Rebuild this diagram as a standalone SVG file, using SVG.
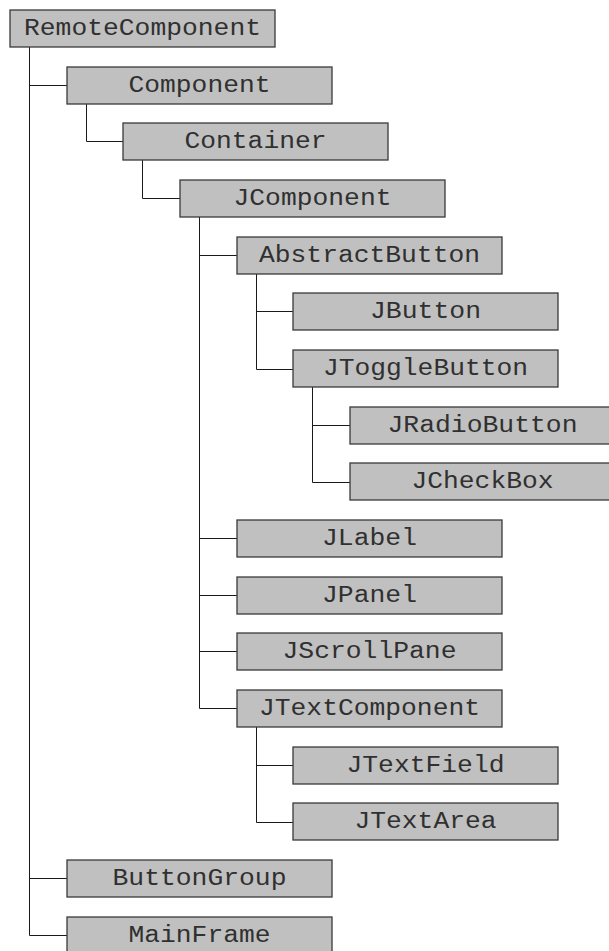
<svg xmlns="http://www.w3.org/2000/svg" width="609" height="951" viewBox="0 0 609 951">
  <style>
    .box { fill: #c0c0c0; stroke: #3a3a3a; stroke-width: 1.3; }
    .lbl { font-family: "Liberation Mono", "Courier New", monospace; font-size: 23px; fill: #303030; text-anchor: middle; }
    .wire { fill: none; stroke: #1a1a1a; stroke-width: 1; }
  </style>
  <rect width="609" height="951" fill="#ffffff"/>

  <!-- tree connectors -->
  <g id="connectors">
    <path class="wire" d="M29.5,47 V935.5 M29.5,85.5 H67 M29.5,878.5 H67 M29.5,935.5 H67"/>
    <path class="wire" d="M86.5,104 V141.5 H123"/>
    <path class="wire" d="M142.5,160 V198.5 H180"/>
    <path class="wire" d="M199.5,217 V708.5 M199.5,255.5 H237 M199.5,538.5 H237 M199.5,595.5 H237 M199.5,651.5 H237 M199.5,708.5 H237"/>
    <path class="wire" d="M256.5,274 V369.5 M256.5,311.5 H293 M256.5,369.5 H293"/>
    <path class="wire" d="M312.5,387 V482.5 M312.5,425.5 H350 M312.5,482.5 H350"/>
    <path class="wire" d="M256.5,727 V822.5 M256.5,765.5 H293 M256.5,822.5 H293"/>
  </g>

  <!-- class nodes -->
  <g id="RemoteComponent"><rect class="box" x="10" y="10" width="265" height="37"/><text class="lbl" x="142.5" y="35" textLength="237" lengthAdjust="spacingAndGlyphs">RemoteComponent</text></g>
  <g id="Component"><rect class="box" x="67" y="67" width="265" height="37"/><text class="lbl" x="199.5" y="92" textLength="142" lengthAdjust="spacingAndGlyphs">Component</text></g>
  <g id="Container"><rect class="box" x="123" y="123" width="265" height="37"/><text class="lbl" x="255.5" y="148" textLength="142" lengthAdjust="spacingAndGlyphs">Container</text></g>
  <g id="JComponent"><rect class="box" x="180" y="180" width="265" height="37"/><text class="lbl" x="312.5" y="205" textLength="158" lengthAdjust="spacingAndGlyphs">JComponent</text></g>
  <g id="AbstractButton"><rect class="box" x="237" y="237" width="265" height="37"/><text class="lbl" x="369.5" y="262" textLength="221" lengthAdjust="spacingAndGlyphs">AbstractButton</text></g>
  <g id="JButton"><rect class="box" x="293" y="293" width="265" height="37"/><text class="lbl" x="425.5" y="318" textLength="111" lengthAdjust="spacingAndGlyphs">JButton</text></g>
  <g id="JToggleButton"><rect class="box" x="293" y="350" width="265" height="37"/><text class="lbl" x="425.5" y="375" textLength="205" lengthAdjust="spacingAndGlyphs">JToggleButton</text></g>
  <g id="JRadioButton"><rect class="box" x="350" y="407" width="265" height="37"/><text class="lbl" x="482.5" y="432" textLength="190" lengthAdjust="spacingAndGlyphs">JRadioButton</text></g>
  <g id="JCheckBox"><rect class="box" x="350" y="463" width="265" height="37"/><text class="lbl" x="482.5" y="488" textLength="142" lengthAdjust="spacingAndGlyphs">JCheckBox</text></g>
  <g id="JLabel"><rect class="box" x="237" y="520" width="265" height="37"/><text class="lbl" x="369.5" y="545" textLength="95" lengthAdjust="spacingAndGlyphs">JLabel</text></g>
  <g id="JPanel"><rect class="box" x="237" y="577" width="265" height="37"/><text class="lbl" x="369.5" y="602" textLength="95" lengthAdjust="spacingAndGlyphs">JPanel</text></g>
  <g id="JScrollPane"><rect class="box" x="237" y="633" width="265" height="37"/><text class="lbl" x="369.5" y="658" textLength="174" lengthAdjust="spacingAndGlyphs">JScrollPane</text></g>
  <g id="JTextComponent"><rect class="box" x="237" y="690" width="265" height="37"/><text class="lbl" x="369.5" y="715" textLength="221" lengthAdjust="spacingAndGlyphs">JTextComponent</text></g>
  <g id="JTextField"><rect class="box" x="293" y="747" width="265" height="37"/><text class="lbl" x="425.5" y="772" textLength="158" lengthAdjust="spacingAndGlyphs">JTextField</text></g>
  <g id="JTextArea"><rect class="box" x="293" y="803" width="265" height="37"/><text class="lbl" x="425.5" y="828" textLength="142" lengthAdjust="spacingAndGlyphs">JTextArea</text></g>
  <g id="ButtonGroup"><rect class="box" x="67" y="860" width="265" height="37"/><text class="lbl" x="199.5" y="885" textLength="174" lengthAdjust="spacingAndGlyphs">ButtonGroup</text></g>
  <g id="MainFrame"><rect class="box" x="67" y="917" width="265" height="37"/><text class="lbl" x="199.5" y="942" textLength="142" lengthAdjust="spacingAndGlyphs">MainFrame</text></g>
</svg>
